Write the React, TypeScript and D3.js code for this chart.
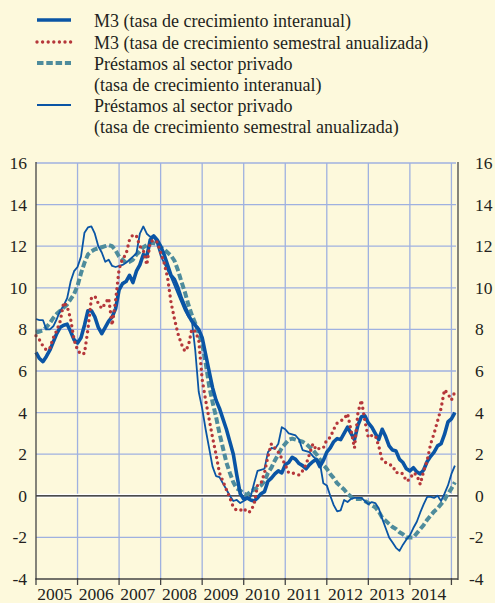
import React from "react";
import * as d3 from "d3";

// Monthly observations, Jan 2005 (index 0) onwards
const m3Interanual = [
  6.9, 6.6, 6.45, 6.7, 7.0, 7.4, 7.8, 8.1, 8.2, 8.25, 7.9, 7.5,
  7.35, 7.6, 8.2, 8.9, 8.9, 8.6, 8.1, 7.8, 8.1, 8.4, 8.6, 9.0,
  9.9, 10.2, 10.3, 10.6, 10.25, 10.8, 11.1, 11.6, 11.5, 12.3, 12.5, 12.3,
  12.0, 11.6, 11.1, 10.6, 10.4, 10.0, 9.5, 9.1, 8.7, 8.4, 8.2, 8.0,
  7.6, 6.8, 6.0, 5.2, 4.6, 4.2, 3.7, 3.2, 2.6, 2.0, 1.0, 0.1, -0.15, -0.1,
  -0.2, -0.25, -0.1, 0.1, 0.2, 0.7, 0.85, 1.05, 1.2, 1.1, 1.5, 1.6,
  1.85, 1.75, 1.55, 1.45, 1.3, 1.5, 1.65, 1.75, 1.4, 1.7, 2.1, 2.3,
  2.6, 2.75, 2.7, 3.0, 3.3, 3.0, 2.7, 3.4, 3.8, 3.85, 3.5, 3.3,
  3.0, 2.7, 3.2, 2.85, 2.4, 2.2, 2.15, 1.75, 1.6, 1.3, 1.2, 1.35,
  1.15, 1.05, 1.25, 1.65, 1.9, 2.1, 2.4, 2.5, 2.95, 3.55, 3.7, 4.0,
];

const m3Semestral = [
  7.7, 7.5, 7.2, 7.0, 7.1, 7.6, 7.95, 8.4, 9.3, 9.1, 8.5, 7.5,
  7.0, 6.8, 6.85, 8.0, 9.5, 9.6, 9.25, 9.0, 9.25, 9.5, 8.2, 9.4,
  10.9, 11.4, 11.6, 12.3, 12.55, 12.5, 12.0, 11.8, 11.1, 12.2, 12.3, 12.2,
  11.7, 11.2, 10.5, 9.3, 8.5, 7.8, 7.3, 6.95, 7.2, 8.0, 7.9, 7.5,
  5.6, 4.6, 3.7, 2.8, 2.0, 1.1, 0.7, 0.3, -0.1, -0.55, -0.7, -0.7,
  -0.6, -0.8, -0.75, -0.4, 0.5, 0.6, 1.1, 1.9, 2.5, 2.3, 2.1, 1.8,
  1.5, 1.1, 1.1, 1.05, 1.0, 1.2, 1.5, 2.0, 2.5, 2.2, 2.3, 2.3,
  2.7, 2.8, 3.2, 3.5, 3.6, 3.7, 3.95, 3.15, 2.3, 4.0, 4.6, 3.6,
  2.8, 2.9, 2.9, 2.4, 1.7, 1.6, 1.5, 1.45, 1.1, 1.15, 1.05, 0.7,
  0.8, 1.1, 1.0, 0.55, 1.2, 1.7, 2.5, 3.0, 3.6, 4.2, 5.1, 4.9,
  4.6, 5.0,
];

const prestamosInteranual = [
  7.85, 7.9, 7.95, 8.1, 8.3, 8.55, 8.75, 8.9, 9.05, 9.2, 9.45, 9.7,
  10.1, 10.7, 11.2, 11.6, 11.75, 11.85, 11.9, 11.95, 12.0, 12.05, 12.0, 11.8,
  11.5, 11.35, 11.2, 11.25, 11.35, 11.6, 11.75, 11.95, 12.05, 12.15, 12.15, 12.1,
  11.95, 11.85, 11.7, 11.55, 11.3, 10.85, 10.3, 9.8, 9.2, 8.7, 8.3, 7.8,
  7.3, 6.4, 5.3, 4.5, 3.8, 3.0, 2.3, 1.6, 1.1, 0.65, 0.35, 0.25,
  0.1, 0.05, 0.2, 0.3, 0.4, 0.5, 0.7, 1.1, 1.35, 1.7, 2.0, 2.3,
  2.5, 2.7, 2.75, 2.7, 2.65, 2.6, 2.5, 2.35, 2.2, 2.0, 1.75, 1.5,
  1.3, 1.05, 0.85, 0.6, 0.45, 0.3, 0.1, -0.05, -0.15, -0.15, -0.15, -0.25,
  -0.35, -0.45, -0.55, -0.75, -1.05, -1.2, -1.35, -1.5, -1.6, -1.75, -1.85, -2.0,
  -2.0, -2.0, -1.8, -1.6, -1.4, -1.15, -0.95, -0.75, -0.6, -0.4, -0.2, 0.1,
  0.35, 0.65,
];

const prestamosSemestral = [
  8.5, 8.45, 8.45, 8.0, 8.0, 8.15, 8.5, 8.9, 9.15, 9.5, 10.3, 10.8,
  11.0, 11.5, 12.65, 12.9, 12.95, 12.6, 12.0, 11.7, 11.25, 11.35, 11.05, 11.0,
  11.05, 11.1, 11.2, 11.35, 11.5, 11.65, 12.6, 12.95, 12.6, 12.45, 12.5, 12.1,
  11.55, 11.2, 10.85, 10.5, 10.1, 9.7, 9.3, 8.9, 8.6, 8.45, 7.0, 5.0,
  4.2, 3.2, 2.3, 1.4, 0.95, 0.9, 0.6, 0.3, 0.0, -0.25, -0.2, -0.35,
  -0.25, -0.15, -0.05, 0.6, 1.2, 1.25, 1.3, 2.1, 2.3, 2.25, 2.5, 3.3,
  3.2, 3.0, 2.95, 2.9, 2.7, 2.2, 2.15, 2.1, 1.9, 1.75, 1.6, 0.6,
  0.5, 0.0, -0.45, -0.75, -0.7, -0.2, -0.3, -0.15, -0.1, -0.1, -0.1, -0.25,
  -0.4, -0.3, -0.35, -0.6, -1.1, -1.55, -2.0, -2.25, -2.5, -2.65, -2.35, -2.1,
  -1.9, -1.55, -1.25, -0.8, -0.4, -0.05, -0.05, -0.1, 0.0, -0.25, 0.1, 0.5,
  1.05, 1.45,
];

const years = ["2005", "2006", "2007", "2008", "2009", "2010", "2011", "2012", "2013", "2014"];
const yTicks = [-4, -2, 0, 2, 4, 6, 8, 10, 12, 14, 16];

const legendItems = [
  { lines: ["M3 (tasa de crecimiento interanual)"], key: "m3i" },
  { lines: ["M3 (tasa de crecimiento semestral anualizada)"], key: "m3s" },
  { lines: ["Préstamos al sector privado", "(tasa de crecimiento interanual)"], key: "pi" },
  { lines: ["Préstamos al sector privado", "(tasa de crecimiento semestral anualizada)"], key: "ps" },
];

const BG = "#fdf9dc";
const BLUE = "#0a55a5";
const RED = "#b5373a";
const TEAL = "#4e8c9c";
const GRID = "#9fb1e0";
const TEXT = "#231f20";
const FONT = "'Liberation Serif', 'Times New Roman', Times, serif";

const styles: Record<string, any> = {
  m3i: { stroke: BLUE, strokeWidth: 3.6, dash: undefined, cap: "butt" },
  m3s: { stroke: RED, strokeWidth: 3.4, dash: "0 5.6", cap: "round" },
  pi: { stroke: TEAL, strokeWidth: 4, dash: "6.5 2.8", cap: "butt" },
  ps: { stroke: BLUE, strokeWidth: 1.8, dash: undefined, cap: "butt" },
};

export default function App() {
  const W = 495;
  const H = 603;
  const left = 36;
  const right = 458;
  const top = 163;
  const bottom = 579;

  const x = d3.scaleLinear().domain([0, 121.9]).range([left, right]);
  const y = d3.scaleLinear().domain([-4, 16]).range([bottom, top]);

  const line = d3
    .line<number>()
    .x((_, i) => x(i))
    .y((d) => y(d));

  const yearTicks = d3.range(0, 11).map((k) => k * 12);

  const series = [
    { key: "pi", data: prestamosInteranual },
    { key: "ps", data: prestamosSemestral },
    { key: "m3i", data: m3Interanual },
    { key: "m3s", data: m3Semestral },
  ];

  const legendX0 = 37;
  const legendX1 = 71;
  const textX = 94;
  const rowH = 21;
  let row = 0;

  return (
    <div style={{ position: "absolute", left: 0, top: 0, fontFamily: FONT }}>
      <svg width={W} height={H} style={{ display: "block", fontFamily: FONT }}>
        <rect x={0} y={0} width={W} height={H} fill={BG} />

        {/* Legend */}
        {legendItems.map((item) => {
          const r0 = row;
          row += item.lines.length;
          const cy = 20 + r0 * rowH + (r0 > 0 ? 1 : 0);
          const s = styles[item.key];
          return (
            <g key={item.key}>
              <line
                x1={legendX0}
                x2={legendX1}
                y1={cy}
                y2={cy}
                stroke={s.stroke}
                strokeWidth={s.strokeWidth}
                strokeDasharray={s.dash}
                strokeLinecap={s.cap}
              />
              {item.lines.map((t, j) => (
                <text key={j} x={textX} y={cy + 6.5 + j * rowH} fontSize={18} fill={TEXT}>
                  {t}
                </text>
              ))}
            </g>
          );
        })}

        {/* Grid */}
        {yTicks
          .filter((v) => v !== 0 && v !== -4)
          .map((v) => (
            <line key={"gy" + v} x1={left} x2={right - 2} y1={y(v)} y2={y(v)} stroke={GRID} strokeWidth={1.3} />
          ))}
        {yearTicks.slice(1).map((m) => (
          <line key={"gx" + m} x1={x(m)} x2={x(m)} y1={top} y2={bottom} stroke={GRID} strokeWidth={1.3} />
        ))}

        {/* Zero line */}
        <line x1={left} x2={right} y1={y(0)} y2={y(0)} stroke="#ffffff" strokeWidth={4} />
        <line x1={left} x2={right} y1={y(0)} y2={y(0)} stroke="#111" strokeWidth={1.2} />

        {/* Series */}
        {series.map((s) => {
          const st = styles[s.key];
          return (
            <path
              key={s.key}
              d={line(s.data) || ""}
              fill="none"
              stroke={st.stroke}
              strokeWidth={st.strokeWidth}
              strokeDasharray={st.dash}
              strokeLinecap={st.cap}
              strokeLinejoin="round"
            />
          );
        })}

        {/* Axes */}
        <line x1={left} x2={left} y1={top - 1} y2={bottom + 1} stroke="#444" strokeWidth={1.3} />
        <line x1={right} x2={right} y1={top - 1} y2={bottom + 1} stroke="#444" strokeWidth={1.3} />
        <line x1={left} x2={right} y1={bottom} y2={bottom} stroke="#444" strokeWidth={1.3} />
        {yearTicks.map((m) => (
          <line key={"tk" + m} x1={x(m)} x2={x(m)} y1={bottom - 1} y2={bottom + 6} stroke="#444" strokeWidth={1.3} />
        ))}

        {/* Y labels */}
        {yTicks.map((v) => (
          <text key={"yl" + v} x={27} y={y(v) + 6} fontSize={17.5} textAnchor="end" fill={TEXT}>
            {v}
          </text>
        ))}
        {yTicks.map((v) => (
          <text key={"yr" + v} x={v < 0 ? 469 : 475} y={y(v) + 6} fontSize={17.5} textAnchor="start" fill={TEXT}>
            {v}
          </text>
        ))}

        {/* X labels */}
        {years.map((yr, i) => (
          <text key={yr} x={x(i * 12 + 6) - 2} y={600} fontSize={17.5} textAnchor="middle" fill={TEXT}>
            {yr}
          </text>
        ))}
      </svg>
    </div>
  );
}
